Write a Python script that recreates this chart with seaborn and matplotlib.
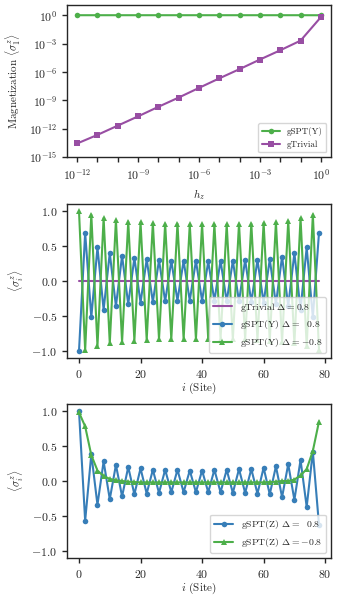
import numpy as np
import pandas as pd
import matplotlib
matplotlib.use("Agg")
import matplotlib.pyplot as plt
import matplotlib.ticker as mticker
import seaborn as sns

# ---------------- data ----------------
hz_exp = [-12, -11, -10, -9, -8, -7, -6, -5, -4, -3, -2, -1, 0]
mag_gspt_y = [1.0, 1.0, 1.0, 1.0, 1.0, 1.0, 1.0, 1.0, 1.0, 1.0, 1.0, 1.0, 0.99]
mag_gtrivial_exp = [-13.57, -12.66, -11.68, -10.70, -9.69, -8.71, -7.69,
                    -6.68, -5.70, -4.69, -3.71, -2.69, -0.21]

sites = list(range(0, 80, 2))
trivial_y = [0.0] * 40
gspt_y_pos = [-1.00, 0.69, -0.52, 0.48, -0.41, 0.40, -0.36, 0.36, -0.33, 0.33,
              -0.31, 0.31, -0.30, 0.30, -0.29, 0.29, -0.28, 0.29, -0.28, 0.29,
              -0.28, 0.28, -0.28, 0.29, -0.29, 0.29, -0.29, 0.30, -0.30, 0.30,
              -0.31, 0.31, -0.33, 0.35, -0.36, 0.40, -0.41, 0.48, -0.52, 0.69]
gspt_y_neg = [1.00, -0.99, 0.95, -0.93, 0.90, -0.89, 0.87, -0.87, 0.85, -0.85,
              0.84, -0.84, 0.83, -0.83, 0.82, -0.83, 0.82, -0.83, 0.81, -0.83,
              0.81, -0.83, 0.81, -0.83, 0.81, -0.83, 0.82, -0.83, 0.82, -0.84,
              0.83, -0.85, 0.84, -0.87, 0.86, -0.89, 0.90, -0.93, 0.95, -0.99]
gspt_z_pos = [1.00, -0.57, 0.385, -0.34, 0.28, -0.26, 0.23, -0.22, 0.20, -0.19,
              0.18, -0.18, 0.16, -0.17, 0.16, -0.16, 0.16, -0.16, 0.15, -0.16,
              0.15, -0.16, 0.16, -0.16, 0.16, -0.17, 0.17, -0.17, 0.17, -0.18,
              0.19, -0.19, 0.21, -0.23, 0.24, -0.27, 0.30, -0.37, 0.42, -0.63]
gspt_z_neg = [0.98, 0.78, 0.37, 0.15, 0.07, 0.03, 0.01, 0.0, -0.01, -0.015,
              -0.02, -0.02, -0.02, -0.02, -0.02, -0.02, -0.02, -0.02, -0.02, -0.02,
              -0.02, -0.02, -0.02, -0.02, -0.02, -0.02, -0.02, -0.02, -0.02, -0.02,
              -0.02, -0.015, -0.01, 0.0, 0.0, 0.02, 0.08, 0.17, 0.43, 0.85]

GREEN = "#4daf4a"
PURPLE = "#984ea3"
BLUE = "#377eb8"

sns.set_theme(style="ticks")
plt.rcParams.update({
    "font.family": ["serif"],
    "font.serif": ["cmr10", "DejaVu Serif"],
    "mathtext.fontset": "cm",
    "axes.formatter.use_mathtext": True,
    "axes.unicode_minus": True,
    "font.size": 8,
    "axes.labelsize": 8,
    "xtick.labelsize": 8.5,
    "ytick.labelsize": 8.5,
    "legend.fontsize": 6.5,
    "axes.linewidth": 1.0,
    "xtick.major.width": 1.0,
    "ytick.major.width": 1.0,
    "axes.edgecolor": "#262626",
    "xtick.color": "#262626",
    "ytick.color": "#262626",
    "xtick.major.size": 3.5,
    "ytick.major.size": 3.5,
})

fig = plt.figure(figsize=(3.38, 6.0), dpi=100)
ax1 = fig.add_axes([67/338, 1 - 157/600, 264/338, 152/600])
ax2 = fig.add_axes([67/338, 1 - 358/600, 264/338, 154/600])
ax3 = fig.add_axes([67/338, 1 - 558/600, 264/338, 154/600])

lw = 1.5
ms = 4

# ---- panel 1 ----
hz = [10.0 ** e for e in hz_exp]
triv = [10.0 ** e for e in mag_gtrivial_exp]
df1 = pd.DataFrame({"hz": hz, "gspt": mag_gspt_y, "triv": triv})
sns.lineplot(data=df1, x="hz", y="gspt", ax=ax1, color=GREEN, marker="o",
             markersize=ms, markeredgewidth=0, lw=lw, label="gSPT(Y)")
sns.lineplot(data=df1, x="hz", y="triv", ax=ax1, color=PURPLE, marker="s",
             markersize=ms, markeredgewidth=0, lw=lw, label="gTrivial")
ax1.set_xscale("log")
ax1.set_yscale("log")
ax1.set_xlim(10 ** -12.5, 10 ** 0.5)
ax1.set_ylim(1e-15, 10 ** 1.08)
ax1.xaxis.set_major_locator(mticker.FixedLocator([10.0 ** e for e in range(-12, 1)]))
ax1.xaxis.set_major_formatter(mticker.FuncFormatter(
    lambda v, p: (r"$10^{%d}$" % round(np.log10(v))) if round(np.log10(v)) % 3 == 0 else ""))
ax1.xaxis.set_minor_locator(mticker.NullLocator())
ax1.yaxis.set_major_locator(mticker.FixedLocator([10.0 ** e for e in range(-15, 1, 3)]))
ax1.yaxis.set_major_formatter(mticker.FuncFormatter(
    lambda v, p: r"$10^{%d}$" % round(np.log10(v))))
ax1.yaxis.set_minor_locator(mticker.NullLocator())
ax1.set_xlabel(r"$h_z$")
ax1.set_ylabel(r"Magnetization $\langle\sigma_1^z\rangle$")
ax1.legend(loc="lower right", fontsize=6.5)

# ---- panel 2 ----
df2 = pd.DataFrame({"site": sites, "triv": trivial_y, "ypos": gspt_y_pos, "yneg": gspt_y_neg})
sns.lineplot(data=df2, x="site", y="triv", ax=ax2, color=PURPLE, lw=lw,
             label=r"gTrivial $\Delta = 0.8$")
sns.lineplot(data=df2, x="site", y="ypos", ax=ax2, color=BLUE, marker="o",
             markersize=ms, markeredgewidth=0, lw=lw, label=r"gSPT(Y) $\Delta =\ \ 0.8$")
sns.lineplot(data=df2, x="site", y="yneg", ax=ax2, color=GREEN, marker="^",
             markersize=ms + 0.5, markeredgewidth=0, lw=lw, label=r"gSPT(Y) $\Delta = -0.8$")
ax2.set_ylim(-1.1, 1.1)
ax2.set_yticks([-1.0, -0.5, 0.0, 0.5, 1.0])
ax2.set_xticks([0, 20, 40, 60, 80])
ax2.set_xlabel(r"$i$ (Site)", labelpad=1)
ax2.set_ylabel(r"$\langle\sigma_i^z\rangle$")
ax2.legend(loc="lower right", fontsize=7)

# ---- panel 3 ----
df3 = pd.DataFrame({"site": sites, "zpos": gspt_z_pos, "zneg": gspt_z_neg})
sns.lineplot(data=df3, x="site", y="zpos", ax=ax3, color=BLUE, marker="o",
             markersize=ms, markeredgewidth=0, lw=lw, label=r"gSPT(Z) $\Delta =\ \ 0.8$")
sns.lineplot(data=df3, x="site", y="zneg", ax=ax3, color=GREEN, marker="^",
             markersize=ms + 0.5, markeredgewidth=0, lw=lw, label=r"gSPT(Z) $\Delta = -0.8$")
ax3.set_ylim(-1.1, 1.1)
ax3.set_yticks([-1.0, -0.5, 0.0, 0.5, 1.0])
ax3.set_xticks([0, 20, 40, 60, 80])
ax3.set_xlabel(r"$i$ (Site)", labelpad=1)
ax3.set_ylabel(r"$\langle\sigma_i^z\rangle$")
ax3.legend(loc="lower right", fontsize=7)

for ax in (ax2, ax3):
    ax.yaxis.set_major_formatter(mticker.FuncFormatter(lambda v, p: "$%.1f$" % v))

fig.savefig("out.png", dpi=100)
